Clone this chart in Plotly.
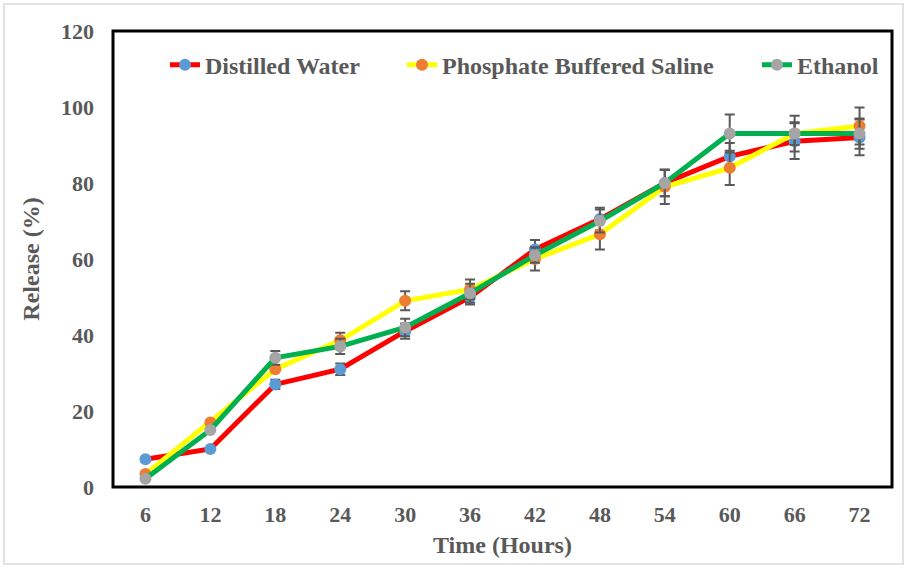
import plotly.graph_objects as go

# Sampling times (hours) and cumulative release (%) with error bars
hours = ["6", "12", "18", "24", "30", "36", "42", "48", "54", "60", "66", "72"]

water = [7.3, 10, 27, 31, 41, 50, 62.5, 70.5, 80, 87, 91, 92]
water_err = [0, 0, 1.2, 1.5, 2, 2, 2.5, 3, 3.5, 3.5, 4.7, 4.7]

pbs = [3.4, 17, 31, 38.6, 49, 52, 60, 66.5, 79, 84, 93, 95]
pbs_err = [0, 0, 0, 2, 2.5, 2.6, 3, 4, 4.5, 4.5, 3, 4.9]

ethanol = [2.2, 15, 34, 37, 42, 51, 61, 70, 80, 93, 93, 93]
ethanol_err = [0, 0, 1.8, 2, 2.3, 2.5, 2, 3, 3.5, 5, 4.7, 4]

series = [
    ("Distilled Water", water, water_err, "#FF0000", "#5B9BD5", "legend"),
    ("Phosphate Buffered Saline", pbs, pbs_err, "#FFFF00", "#ED7D31", "legend2"),
    ("Ethanol", ethanol, ethanol_err, "#00B050", "#A5A5A5", "legend3"),
]

FONT = "Liberation Serif"
GREY = "#595959"

# plot area in pixels
L, R, T, B = 113, 15, 31, 81
PW = 907 - L - R

fig = go.Figure()
for name, vals, errs, line_col, mark_col, leg in series:
    fig.add_trace(go.Scatter(
        x=hours, y=vals, name=name, mode="lines+markers",
        line=dict(color=line_col, width=5),
        marker=dict(color=mark_col, size=12),
        error_y=dict(type="data", array=errs, visible=True,
                     color=GREY, thickness=2, width=5),
        legend=leg,
    ))


def legend_at(px):
    return dict(
        orientation="h", x=(px - L) / PW, xanchor="left",
        y=0.925, yanchor="middle",
        font=dict(family=FONT, size=24, color=GREY, weight="bold"),
        bgcolor="rgba(0,0,0,0)",
    )


fig.update_layout(
    width=907, height=568,
    margin=dict(l=L, r=R, t=T, b=B),
    paper_bgcolor="white", plot_bgcolor="white",
    font=dict(family=FONT, color=GREY),
    showlegend=True,
    legend=legend_at(165),
    legend2=legend_at(402),
    legend3=legend_at(757),
    xaxis=dict(
        type="category", range=[-0.5, 11.5],
        showgrid=False, zeroline=False, showline=False, ticks="",
        tickfont=dict(family=FONT, size=22, color=GREY, weight="bold"),
        ticklabelstandoff=12,
        title=dict(text="Time (Hours)", standoff=10,
                   font=dict(family=FONT, size=24, color=GREY, weight="bold")),
    ),
    yaxis=dict(
        range=[0, 120], dtick=20,
        showgrid=False, zeroline=False, showline=False, ticks="",
        tickfont=dict(family=FONT, size=22, color=GREY, weight="bold"),
        ticklabelstandoff=18,
        title=dict(text="Release (%)", standoff=14,
                   font=dict(family=FONT, size=24, color=GREY, weight="bold")),
    ),
    shapes=[
        # plot frame
        dict(type="rect", xref="paper", yref="paper", x0=0, x1=1, y0=0, y1=1,
             line=dict(color="black", width=3), layer="above"),
        # outer chart border
        dict(type="rect", xref="paper", yref="paper",
             x0=(4 - L) / PW, x1=(903 - L) / PW,
             y0=(487 - 564) / 456, y1=(487 - 4) / 456,
             line=dict(color="#D9D9D9", width=1.5)),
    ],
)

fig.write_html("out.html")
